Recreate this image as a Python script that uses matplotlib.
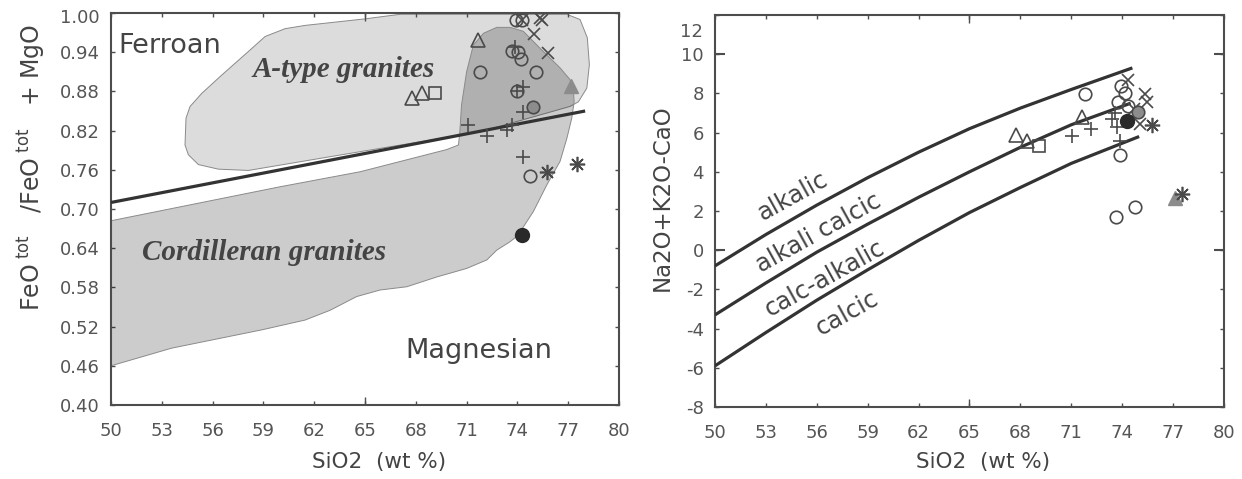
import matplotlib
matplotlib.use("Agg")
import matplotlib.pyplot as plt
from matplotlib.patches import Polygon

# ---- left panel: FeO*/(FeO*+MgO) vs SiO2 ----
atype_x = [60.28, 61.46, 65.00, 67.07, 76.92, 77.70, 78.13, 78.25, 78.10, 77.60, 77.11,
           71.8, 65.0, 58.11, 56.34, 55.16, 54.57, 54.37, 54.43, 54.67, 55.36, 56.54, 58.11, 59.10]
atype_y = [0.976, 0.981, 0.991, 0.998, 0.998, 0.990, 0.962, 0.921, 0.885, 0.864, 0.857,
           0.818, 0.789, 0.759, 0.761, 0.768, 0.783, 0.798, 0.839, 0.857, 0.877, 0.905, 0.941, 0.964]

cord_x = [50.0, 59.98, 64.71, 69.83, 70.52, 70.6, 70.7, 71.0, 71.4, 72.0, 72.78, 73.57, 74.35,
          75.34, 76.52, 77.11, 77.31, 77.35, 77.21, 76.92, 76.52, 75.74, 74.94, 74.16, 73.96,
          73.57, 72.78, 72.19, 71.0, 69.24, 67.47, 65.89, 64.51, 62.94, 61.46, 58.9, 53.58, 50.0]
cord_y = [0.682, 0.734, 0.757, 0.791, 0.798, 0.818, 0.859, 0.910, 0.951, 0.969, 0.978, 0.978, 0.972,
          0.946, 0.916, 0.898, 0.880, 0.864, 0.839, 0.808, 0.773, 0.737, 0.696, 0.665, 0.658,
          0.650, 0.637, 0.622, 0.609, 0.596, 0.581, 0.576, 0.566, 0.545, 0.530, 0.515, 0.487, 0.460]

ferroan_x = [50, 78]
ferroan_y = [0.71, 0.85]

fe_circle_x = [73.9, 74.3, 71.8, 73.7, 74.05, 74.2, 75.1, 74.0, 74.75]
fe_circle_y = [0.990, 0.990, 0.910, 0.942, 0.940, 0.930, 0.910, 0.880, 0.750]
fe_plus_x = [73.86, 74.0, 74.35, 74.35, 71.1, 72.19, 73.37, 73.67, 74.35]
fe_plus_y = [0.948, 0.880, 0.887, 0.849, 0.829, 0.811, 0.821, 0.829, 0.780]
fe_cross_x = [74.3, 75.35, 75.45, 75.0, 75.8]
fe_cross_y = [0.990, 0.992, 0.990, 0.968, 0.939]
fe_tri_x = [71.7, 67.76, 68.35]
fe_tri_y = [0.959, 0.870, 0.877]
fe_sq_x = [69.14]
fe_sq_y = [0.878]
fe_gcirc_x = [74.94]
fe_gcirc_y = [0.856]
fe_gtri_x = [77.15]
fe_gtri_y = [0.888]
fe_star_x = [75.74, 77.5]
fe_star_y = [0.757, 0.769]
fe_bcirc_x = [74.26]
fe_bcirc_y = [0.660]

# ---- right panel: MALI vs SiO2 ----
alk_x = [50, 53, 56, 59, 62, 65, 68, 71, 74.6]
alk_y = [-0.8, 0.8, 2.3, 3.7, 5.0, 6.2, 7.25, 8.2, 9.3]
alkcal_x = [50, 53, 56, 59, 62, 65, 68, 71, 74.5]
alkcal_y = [-3.3, -1.67, -0.1, 1.33, 2.7, 4.0, 5.25, 6.4, 7.5]
calcalk_x = [50, 53, 56, 59, 62, 65, 68, 71, 75.0]
calcalk_y = [-5.9, -4.2, -2.55, -1.0, 0.5, 1.92, 3.2, 4.43, 5.8]

ma_circle_x = [71.8, 73.93, 74.16, 73.77, 74.36, 73.87, 73.61, 74.75]
ma_circle_y = [7.98, 8.40, 8.03, 7.55, 7.38, 4.87, 1.70, 2.18]
ma_plus_x = [71.06, 72.14, 73.38, 73.67, 73.87, 73.6]
ma_plus_y = [5.84, 6.19, 6.70, 6.27, 5.59, 7.0]
ma_cross_x = [74.36, 75.34, 75.44, 75.04, 74.7]
ma_cross_y = [8.66, 7.98, 7.55, 6.44, 7.2]
ma_tri_x = [67.72, 68.37, 71.65]
ma_tri_y = [5.88, 5.59, 6.81]
ma_sq_x = [69.09]
ma_sq_y = [5.33]
ma_gcirc_x = [74.94]
ma_gcirc_y = [7.07]
ma_gtri_x = [77.11]
ma_gtri_y = [2.64]
ma_star_x = [75.77, 77.5]
ma_star_y = [6.41, 2.86]
ma_bcirc_x = [74.26]
ma_bcirc_y = [6.61]

sio2_ticks = list(range(50, 81, 3))
fe_ticks = [0.40, 0.46, 0.52, 0.58, 0.64, 0.70, 0.76, 0.82, 0.88, 0.94, 1.00]
mali_ticks = list(range(-8, 13, 2))

TXT = '#444444'
TICK = '#555555'
EDGE = '#4a4a4a'
LINE = '#333333'

plt.rcParams['font.family'] = 'DejaVu Sans'
plt.rcParams['xtick.direction'] = 'in'
plt.rcParams['ytick.direction'] = 'in'

fig = plt.figure(figsize=(12.42, 4.79), dpi=100)
ax1 = fig.add_axes([111/1242, 1-405/479, 508/1242, 392/479])
ax2 = fig.add_axes([715/1242, 1-407/479, 509/1242, 392/479])


def style_axes(ax):
    for sp in ax.spines.values():
        sp.set_color('#4d4d4d')
        sp.set_linewidth(1.5)
    ax.tick_params(which='both', top=True, right=True, colors='#4d4d4d',
                   labelcolor=TICK, labelsize=13, width=1.0)
    ax.tick_params(axis='x', which='major', length=3, pad=12)
    ax.tick_params(axis='y', which='major', length=3, pad=8)
    ax.set_xlim(50, 80)
    ax.set_xticks(sio2_ticks)
    ax.set_xticks([65], minor=True)
    ax.xaxis.remove_overlapping_locs = False
    ax.tick_params(axis='x', which='minor', length=6)


def draw_markers(ax, d):
    kw = dict(linestyle='none', markeredgecolor=EDGE, markeredgewidth=1.2, zorder=5)
    ax.plot(d['circle'][0], d['circle'][1], marker='o', markersize=9, markerfacecolor='none', **kw)
    ax.plot(d['plus'][0], d['plus'][1], marker='+', markersize=10, **kw)
    ax.plot(d['cross'][0], d['cross'][1], marker='x', markersize=9, **kw)
    ax.plot(d['tri'][0], d['tri'][1], marker='^', markersize=10, markerfacecolor='none', **kw)
    ax.plot(d['sq'][0], d['sq'][1], marker='s', markersize=9, markerfacecolor='none', **kw)
    ax.plot(d['gcirc'][0], d['gcirc'][1], marker='o', markersize=9, markerfacecolor='#8c8c8c', **kw)
    ax.plot(d['gtri'][0], d['gtri'][1], marker='^', markersize=10, markerfacecolor='#8c8c8c',
            linestyle='none', markeredgecolor='#8c8c8c', zorder=5)
    ax.plot(d['star'][0], d['star'][1], marker=(8, 2, 0), markersize=11, **kw)
    ax.plot(d['bcirc'][0], d['bcirc'][1], marker='o', markersize=10, markerfacecolor='#2a2a2a',
            linestyle='none', markeredgecolor='#2a2a2a', zorder=6)


# left panel
style_axes(ax1)
ax1.set_ylim(0.40, 1.00)
ax1.set_yticks(fe_ticks)
ax1.set_yticklabels(['%.2f' % t if t < 1 else '' for t in fe_ticks])
ax1.set_xticklabels([str(t) for t in sio2_ticks])
ax1.annotate('1.00', xy=(0, 1.0), xycoords=('axes fraction', 'data'), xytext=(-8, -3.5),
             textcoords='offset points', ha='right', va='center', fontsize=13, color=TICK)

ax1.add_patch(Polygon(list(zip(atype_x, atype_y)), closed=True, facecolor='#dcdcdc',
                      edgecolor='#8a8a8a', linewidth=0.7, zorder=1))
ax1.add_patch(Polygon(list(zip(cord_x, cord_y)), closed=True, facecolor=(0, 0, 0, 0.2),
                      edgecolor='#8a8a8a', linewidth=0.7, zorder=2))
ax1.plot(ferroan_x, ferroan_y, color=LINE, linewidth=2.3, zorder=3, solid_capstyle='butt')

draw_markers(ax1, dict(circle=(fe_circle_x, fe_circle_y), plus=(fe_plus_x, fe_plus_y),
                       cross=(fe_cross_x, fe_cross_y), tri=(fe_tri_x, fe_tri_y),
                       sq=(fe_sq_x, fe_sq_y), gcirc=(fe_gcirc_x, fe_gcirc_y),
                       gtri=(fe_gtri_x, fe_gtri_y), star=(fe_star_x, fe_star_y),
                       bcirc=(fe_bcirc_x, fe_bcirc_y)))

ax1.text(50.41, 0.9386, 'Ferroan', fontsize=19.5, color=TXT, ha='left', va='baseline', zorder=7)
ax1.text(67.37, 0.472, 'Magnesian', fontsize=19.5, color=TXT, ha='left', va='baseline', zorder=7)
ax1.text(58.33, 0.902, 'A-type granites', family='Liberation Serif', style='italic',
         weight='bold', fontsize=21, color=TXT, ha='left', va='baseline', zorder=7)
ax1.text(51.81, 0.622, 'Cordilleran granites', family='Liberation Serif', style='italic',
         weight='bold', fontsize=21, color=TXT, ha='left', va='baseline', zorder=7)

ax1.text(0.528, -0.145, 'SiO2  (wt %)', transform=ax1.transAxes, fontsize=15.5,
         color=TXT, ha='center', va='center')
ax1.text(-0.157, 0.605,
         r'FeO$^{\mathregular{\ tot}}$   /FeO$^{\mathregular{\ tot}}$   + MgO',
         transform=ax1.transAxes, fontsize=17, color=TXT, rotation=90,
         ha='center', va='center')

# right panel
style_axes(ax2)
ax2.set_ylim(-8, 12)
ax2.set_yticks(mali_ticks)
ax2.set_yticklabels([str(t) if t != 12 else '' for t in mali_ticks])
ax2.set_yticks([0, 10], minor=True)
ax2.yaxis.remove_overlapping_locs = False
ax2.tick_params(axis='y', which='minor', length=7, width=1.5)
ax2.set_xticklabels([str(t) for t in sio2_ticks])
ax2.annotate('12', xy=(0, 12), xycoords=('axes fraction', 'data'), xytext=(-9, -12),
             textcoords='offset points', ha='right', va='center', fontsize=13, color=TICK)

for xs, ys in [(alk_x, alk_y), (alkcal_x, alkcal_y), (calcalk_x, calcalk_y)]:
    ax2.plot(xs, ys, color=LINE, linewidth=2.3, zorder=3, solid_capstyle='butt',
             solid_joinstyle='round')

draw_markers(ax2, dict(circle=(ma_circle_x, ma_circle_y), plus=(ma_plus_x, ma_plus_y),
                       cross=(ma_cross_x, ma_cross_y), tri=(ma_tri_x, ma_tri_y),
                       sq=(ma_sq_x, ma_sq_y), gcirc=(ma_gcirc_x, ma_gcirc_y),
                       gtri=(ma_gtri_x, ma_gtri_y), star=(ma_star_x, ma_star_y),
                       bcirc=(ma_bcirc_x, ma_bcirc_y)))

for label, (lx, ly) in [('alkalic', (54.56, 2.74)), ('alkali calcic', (56.13, 0.87)),
                        ('calc-alkalic', (56.48, -1.43)), ('calcic', (57.78, -3.22))]:
    ax2.text(lx, ly, label, fontsize=17.5, color=TXT, rotation=29, rotation_mode='anchor',
             ha='center', va='center')

ax2.text(0.527, -0.14, 'SiO2  (wt %)', transform=ax2.transAxes, fontsize=15.5,
         color=TXT, ha='center', va='center')
ax2.text(-0.104, 0.534, 'Na2O+K2O-CaO', transform=ax2.transAxes, fontsize=16.5,
         color=TXT, rotation=90, ha='center', va='center')

fig.savefig('out.png', dpi=100, facecolor='white')
